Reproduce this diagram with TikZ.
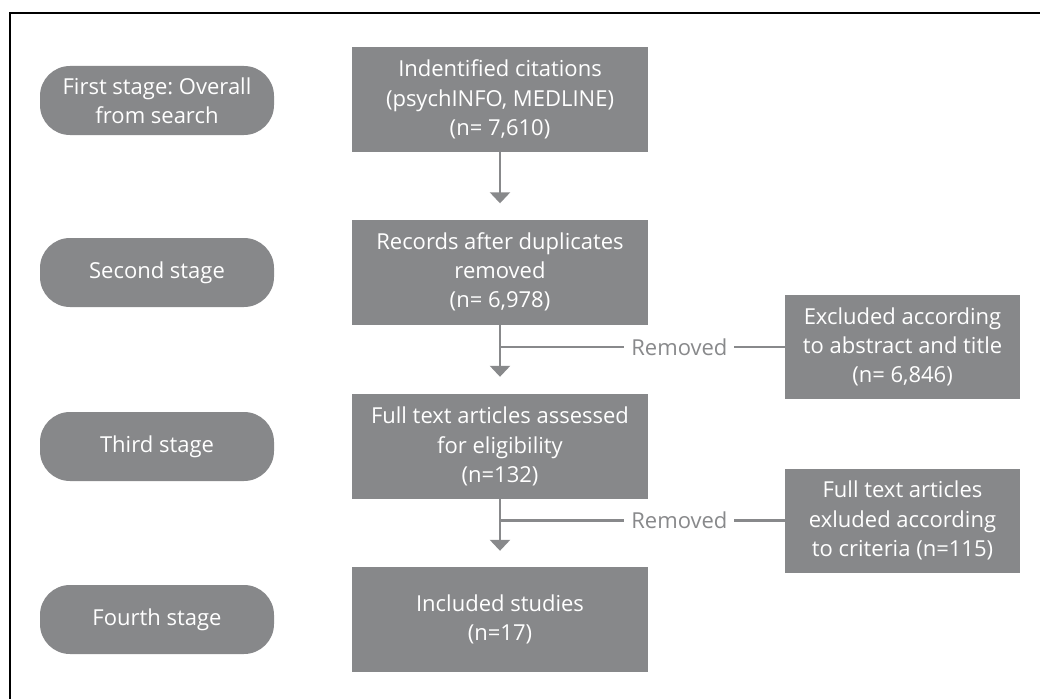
\documentclass[tikz,border=0pt]{standalone}
\usepackage{fontspec}
\setmainfont{Open Sans}
\usetikzlibrary{arrows.meta}
\definecolor{boxgray}{HTML}{87888A}
\definecolor{linegray}{HTML}{88898B}
\begin{document}
\frenchspacing
\begin{tikzpicture}[x=1pt,y=-1pt,
  txt/.style={font=\fontsize{22}{29.2}\selectfont\frenchspacing},
  stagebox/.style={txt, fill=boxgray, rounded corners=30pt, minimum width=234pt, minimum height=69pt, text=white, align=center, inner sep=0pt},
  mainbox/.style={txt, fill=boxgray, minimum width=296pt, minimum height=105pt, text=white, align=center, inner sep=0pt},
  exclbox/.style={txt, fill=boxgray, minimum width=235pt, minimum height=104pt, text=white, align=center, inner sep=0pt},
  flow/.style={draw=linegray, line width=2.5pt, -{Triangle[width=20pt,length=11pt]}},
  branch/.style={draw=linegray, line width=2.5pt},
  lbl/.style={txt, fill=white, text=linegray, inner xsep=7pt, inner ysep=0pt},
  frameline/.style={draw=black, line width=2pt}
]
\useasboundingbox (0,0) rectangle (1040,698);
\coordinate (fb) at (10,699);
\coordinate (fc) at (10,13);
\coordinate (fr) at (1041,13);
\draw[frameline] (fb) -- (fc) -- (fr);

\node[stagebox] (s1) at (157,100.5) {First stage: Overall\\from search};
\node[stagebox] (s2) at (157,272.5) {Second stage};
\node[stagebox] (s3) at (157,446.5) {Third stage};
\node[stagebox] (s4) at (157,619.5) {Fourth stage};

\node[mainbox] (b1) at (500,99.5) {Indentified citations\\(psychINFO, MEDLINE)\\(n= 7,610)};
\node[mainbox] (b2) at (500,272) {Records after duplicates\\removed\\(n= 6,978)};
\node[mainbox] (b3) at (500,446.5) {Full text articles assessed\\for eligibility\\(n=132)};
\node[mainbox] (b4) at (500,619.5) {Included studies\\(n=17)};

\node[exclbox] (e1) at (902.5,347) {Excluded according\\to abstract and title\\(n= 6,846)};
\node[exclbox] (e2) at (902.5,520.5) {Full text articles\\exluded according\\to criteria (n=115)};

\draw[flow, shorten >=16pt] (b1.south) -- (b2.north);
\draw[flow, shorten >=17pt] (b2.south) -- (b3.north);
\draw[flow, shorten >=16pt] (b3.south) -- (b4.north);

\draw[branch] (b2.south |- e1.west) -- node[lbl, pos=0.63] {Removed} (e1.west);
\draw[branch] (b3.south |- e2.west) -- node[lbl, pos=0.63] {Removed} (e2.west);
\end{tikzpicture}
\end{document}
